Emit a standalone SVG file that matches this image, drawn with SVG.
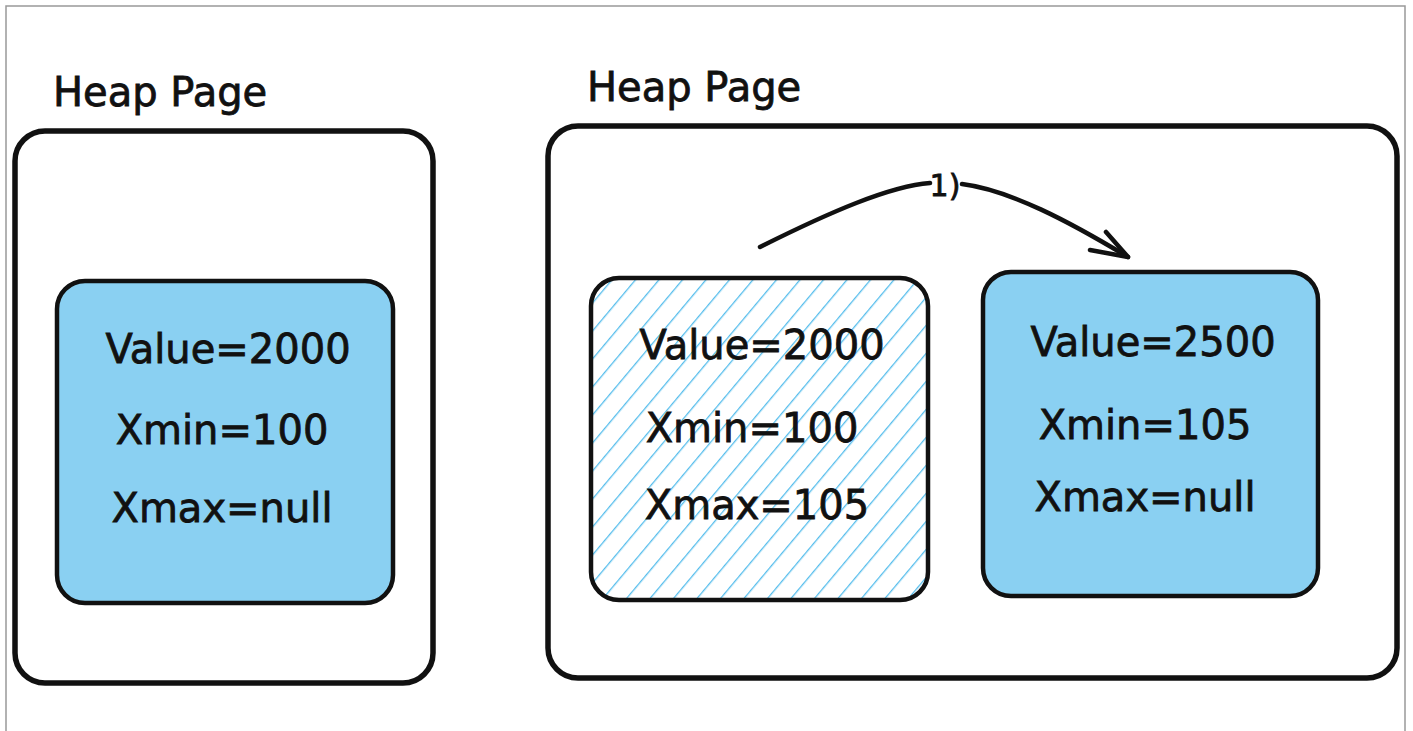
<svg xmlns="http://www.w3.org/2000/svg" width="1413" height="731" viewBox="0 0 1413 731">
<style>
.t{font-family:"DejaVu Sans","Liberation Sans",sans-serif;font-size:40px;fill:#111;stroke:#111;stroke-width:0.8;text-anchor:middle}
.h{font-family:"DejaVu Sans","Liberation Sans",sans-serif;font-size:40px;fill:#111;stroke:#111;stroke-width:0.8}
.outer{fill:#fff;stroke:#111;stroke-width:5.5}
.blue{fill:#8ad0f2;stroke:#111;stroke-width:4.5}
.hat{fill:url(#hatch);stroke:#111;stroke-width:4.5}
.frame{fill:none;stroke:#999;stroke-width:1.5}
.conn{fill:none;stroke:#111;stroke-width:4.5;stroke-linecap:round;stroke-linejoin:round}
</style>
<defs>
<pattern id="hatch" patternUnits="userSpaceOnUse" width="18" height="18" patternTransform="rotate(40)">
<rect width="18" height="18" fill="#fff"/>
<line x1="0" y1="0" x2="0" y2="18" stroke="#55bdec" stroke-width="2.6"/>
</pattern>
</defs>
<rect width="1413" height="731" fill="#fff"/>
<path class="frame" d="M6,731 V6 H1405 V731"/>
<g id="page1">
<text class="h" x="53" y="106">Heap Page</text>
<rect class="outer" x="15" y="131" width="418" height="552" rx="30"/>
</g>
<g id="tuple1">
<rect class="blue" x="57" y="281" width="336" height="322" rx="28"/>
<text class="t" x="228" y="363">Value=2000</text>
<text class="t" x="222" y="444">Xmin=100</text>
<text class="t" x="222" y="522">Xmax=null</text>
</g>
<g id="page2">
<text class="h" x="587" y="101">Heap Page</text>
<rect class="outer" x="548" y="126" width="849" height="552" rx="30"/>
</g>
<g id="tuple2">
<rect class="hat" x="591" y="278" width="337" height="322" rx="28"/>
<text class="t" x="762" y="359">Value=2000</text>
<text class="t" x="752" y="442">Xmin=100</text>
<text class="t" x="757" y="519">Xmax=105</text>
</g>
<g id="tuple3">
<rect class="blue" x="983" y="272" width="335" height="324" rx="28"/>
<text class="t" x="1153" y="356">Value=2500</text>
<text class="t" x="1145" y="439">Xmin=105</text>
<text class="t" x="1145" y="511">Xmax=null</text>
</g>
<g id="connectors">
<path class="conn" d="M760,247 C830,212 890,186 930,183"/>
<path class="conn" d="M962,184 C1010,190 1070,222 1128,257"/>
<path class="conn" d="M1090,250 L1128,257 L1106,232"/>
<text x="945" y="196" style="font-family:'DejaVu Sans',sans-serif;font-size:30px;fill:#111;stroke:#111;stroke-width:0.8;text-anchor:middle">1)</text>
</g>
</svg>
